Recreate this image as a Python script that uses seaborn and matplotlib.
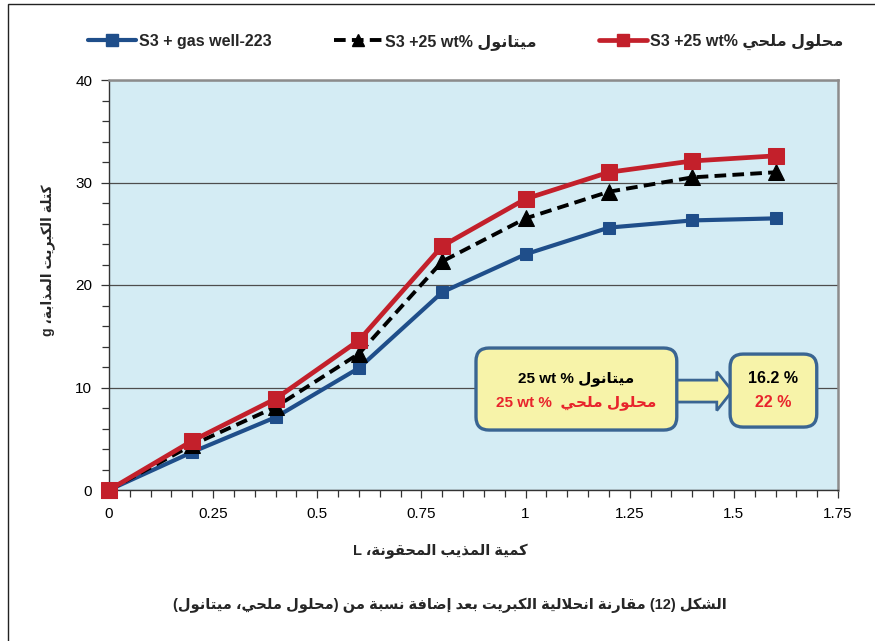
import matplotlib
matplotlib.use("Agg")
import matplotlib.pyplot as plt
from matplotlib.patches import FancyBboxPatch, Polygon, Rectangle
from matplotlib.ticker import MultipleLocator
from matplotlib.lines import Line2D
import seaborn as sns
import pandas as pd

# ---------------------------------------------------------------- data
volume_l = [0, 0.2, 0.4, 0.6, 0.8, 1.0, 1.2, 1.4, 1.6]
gas_well = [0, 3.7, 7.1, 11.9, 19.3, 23.0, 25.6, 26.3, 26.5]
methanol = [0, 4.4, 8.1, 13.3, 22.3, 26.5, 29.1, 30.5, 31.0]
brine = [0, 4.8, 8.9, 14.6, 23.8, 28.4, 31.0, 32.1, 32.6]

x_ticks = [0, 0.25, 0.5, 0.75, 1, 1.25, 1.5, 1.75]
x_tick_labels = ["0", "0.25", "0.5", "0.75", "1", "1.25", "1.5", "1.75"]
y_ticks = [0, 10, 20, 30, 40]

# ------------------------------------------------- Arabic shaping helpers
# (isolated, final, initial, medial) presentation forms
_FORMS = {
    "\u0622": (0xFE81, 0xFE82, None, None),
    "\u0623": (0xFE83, 0xFE84, None, None),
    "\u0625": (0xFE87, 0xFE88, None, None),
    "\u0627": (0xFE8D, 0xFE8E, None, None),
    "\u0628": (0xFE8F, 0xFE90, 0xFE91, 0xFE92),
    "\u0629": (0xFE93, 0xFE94, None, None),
    "\u062A": (0xFE95, 0xFE96, 0xFE97, 0xFE98),
    "\u062B": (0xFE99, 0xFE9A, 0xFE9B, 0xFE9C),
    "\u062C": (0xFE9D, 0xFE9E, 0xFE9F, 0xFEA0),
    "\u062D": (0xFEA1, 0xFEA2, 0xFEA3, 0xFEA4),
    "\u062E": (0xFEA5, 0xFEA6, 0xFEA7, 0xFEA8),
    "\u062F": (0xFEA9, 0xFEAA, None, None),
    "\u0630": (0xFEAB, 0xFEAC, None, None),
    "\u0631": (0xFEAD, 0xFEAE, None, None),
    "\u0632": (0xFEAF, 0xFEB0, None, None),
    "\u0633": (0xFEB1, 0xFEB2, 0xFEB3, 0xFEB4),
    "\u0634": (0xFEB5, 0xFEB6, 0xFEB7, 0xFEB8),
    "\u0635": (0xFEB9, 0xFEBA, 0xFEBB, 0xFEBC),
    "\u0636": (0xFEBD, 0xFEBE, 0xFEBF, 0xFEC0),
    "\u0637": (0xFEC1, 0xFEC2, 0xFEC3, 0xFEC4),
    "\u0638": (0xFEC5, 0xFEC6, 0xFEC7, 0xFEC8),
    "\u0639": (0xFEC9, 0xFECA, 0xFECB, 0xFECC),
    "\u063A": (0xFECD, 0xFECE, 0xFECF, 0xFED0),
    "\u0641": (0xFED1, 0xFED2, 0xFED3, 0xFED4),
    "\u0642": (0xFED5, 0xFED6, 0xFED7, 0xFED8),
    "\u0643": (0xFED9, 0xFEDA, 0xFEDB, 0xFEDC),
    "\u0644": (0xFEDD, 0xFEDE, 0xFEDF, 0xFEE0),
    "\u0645": (0xFEE1, 0xFEE2, 0xFEE3, 0xFEE4),
    "\u0646": (0xFEE5, 0xFEE6, 0xFEE7, 0xFEE8),
    "\u0647": (0xFEE9, 0xFEEA, 0xFEEB, 0xFEEC),
    "\u0648": (0xFEED, 0xFEEE, None, None),
    "\u0649": (0xFEEF, 0xFEF0, None, None),
    "\u064A": (0xFEF1, 0xFEF2, 0xFEF3, 0xFEF4),
}
_LAM_ALEF = {
    "\u0622": (0xFEF5, 0xFEF6, None, None),
    "\u0623": (0xFEF7, 0xFEF8, None, None),
    "\u0625": (0xFEF9, 0xFEFA, None, None),
    "\u0627": (0xFEFB, 0xFEFC, None, None),
}


def _shape(text):
    units = []
    i = 0
    while i < len(text):
        ch = text[i]
        if ch == "\u0644" and i + 1 < len(text) and text[i + 1] in _LAM_ALEF:
            units.append((ch, _LAM_ALEF[text[i + 1]]))
            i += 2
            continue
        units.append((ch, _FORMS.get(ch)))
        i += 1
    out = []
    for k, (ch, forms) in enumerate(units):
        if forms is None:
            out.append(ch)
            continue
        prev = k > 0 and units[k - 1][1] is not None and units[k - 1][1][2] is not None
        nxt = forms[2] is not None and k + 1 < len(units) and units[k + 1][1] is not None
        if prev and nxt:
            code = forms[3]
        elif prev:
            code = forms[1]
        elif nxt:
            code = forms[2]
        else:
            code = forms[0]
        out.append(chr(code))
    return "".join(out)


_MIRROR = str.maketrans("()", ")(")


def rtl(text):
    """Shape Arabic text and lay it out right-to-left, word by word."""
    words = _shape(text).split(" ")
    vis = []
    for w in reversed(words):
        if any(0xFB50 <= ord(c) <= 0xFEFF or 0x0600 <= ord(c) <= 0x06FF for c in w):
            vis.append(w[::-1].translate(_MIRROR))
        else:
            vis.append(w)
    return " ".join(vis)


# ---------------------------------------------------------------- labels
series_names = [
    "S3 + gas well-223",
    "S3 +25 wt% " + rtl("ميتانول"),
    "S3 +25 wt% " + rtl("محلول ملحي"),
]
x_label = rtl("كمية المذيب المحقونة، L")
y_label = rtl("كتلة الكبريت المذابة، g")
caption = rtl("الشكل (12) مقارنة انحلالية الكبريت بعد إضافة نسبة من (محلول ملحي، ميتانول)")
box_line1 = "25 wt % " + rtl("ميتانول")
box_line2 = "25 wt %  " + rtl("محلول ملحي")
result_methanol = "16.2 %"
result_brine = "22 %"

# ---------------------------------------------------------------- style
sns.set_theme(style="white")
plt.rcParams["font.family"] = ["Liberation Sans", "DejaVu Sans"]

BLUE = "#1f4e8a"
BLACK = "#000000"
RED = "#c3202b"
BOX_FILL = "#f7f3a9"
BOX_EDGE = "#3a6592"

fig = plt.figure(figsize=(8.75, 6.41), dpi=100)
ax = fig.add_axes([109 / 875, 1 - 490 / 641, 729 / 875, 410 / 641])
ax.set_facecolor("#d4ecf4")

df = pd.DataFrame({"x": volume_l, "gas": gas_well, "meth": methanol, "brine": brine})

sns.lineplot(data=df, x="x", y="gas", ax=ax, color=BLUE, lw=3.0,
             marker="s", markersize=9, markeredgecolor=BLUE,
             markerfacecolor=BLUE, clip_on=False, zorder=3)
sns.lineplot(data=df, x="x", y="meth", ax=ax, color=BLACK, lw=2.8,
             linestyle=(0, (3, 1.6)), marker="^", markersize=11,
             markeredgecolor=BLACK, markerfacecolor=BLACK, clip_on=False, zorder=4)
sns.lineplot(data=df, x="x", y="brine", ax=ax, color=RED, lw=3.4,
             marker="s", markersize=11, markeredgecolor=RED,
             markerfacecolor=RED, clip_on=False, zorder=5)

ax.set_xlim(0, 1.75)
ax.set_ylim(0, 40)
ax.set_xticks(x_ticks)
ax.set_xticklabels(x_tick_labels)
ax.set_yticks(y_ticks)
ax.xaxis.set_minor_locator(MultipleLocator(0.05))
ax.yaxis.set_minor_locator(MultipleLocator(2))
ax.tick_params(which="both", direction="out", color="#333333", width=0.9,
               labelsize=11, labelcolor="black", bottom=True, left=True)
ax.tick_params(which="major", length=6, pad=6)
ax.tick_params(which="minor", length=5)
ax.yaxis.grid(True, which="major", color="#4d4d4d", lw=0.9)
ax.xaxis.grid(False)

for side in ("left", "bottom"):
    ax.spines[side].set_color("#333333")
    ax.spines[side].set_linewidth(1.0)
for side in ("top", "right"):
    ax.spines[side].set_color("#8c8c8c")
    ax.spines[side].set_linewidth(1.8)

ax.set_xlabel(x_label, fontsize=10.5, fontweight="bold")
ax.set_ylabel(y_label, fontsize=10, fontweight="bold")
ax.xaxis.set_label_coords(0.454, -0.130)
ax.yaxis.set_label_coords(-0.074, 0.56)

# ------------------------------------------- annotation boxes and arrow
# Boxes are placed by data position but drawn in inch space so the
# rounded corners stay circular.
to_in = ax.transData + fig.dpi_scale_trans.inverted()


def rounded_box(x0, y0, x1, y1):
    (ax0, ay0), (ax1, ay1) = to_in.transform([(x0, y0), (x1, y1)])
    patch = FancyBboxPatch((ax0, ay0), ax1 - ax0, ay1 - ay0,
                           boxstyle="round,pad=0,rounding_size=0.13",
                           transform=fig.dpi_scale_trans, fc=BOX_FILL,
                           ec=BOX_EDGE, lw=2.4, zorder=6, clip_on=False)
    ax.add_patch(patch)


rounded_box(0.881, 5.85, 1.363, 13.85)
rounded_box(1.491, 6.14, 1.699, 13.26)
arrow = Polygon([(1.347, 10.72), (1.459, 10.72), (1.459, 11.55), (1.496, 9.65),
                 (1.459, 7.75), (1.459, 8.58), (1.347, 8.58)],
                closed=True, fc=BOX_FILL, ec=BOX_EDGE, lw=2.0, zorder=5)
ax.add_patch(arrow)

ax.text(1.122, 10.9, box_line1, ha="center", va="center", fontsize=11,
        fontweight="bold", color="black", zorder=8)
ax.text(1.122, 8.55, box_line2, ha="center", va="center", fontsize=11,
        fontweight="bold", color="#e8242c", zorder=8)
ax.text(1.595, 10.9, result_methanol, ha="center", va="center", fontsize=11.5,
        fontweight="bold", color="black", zorder=8)
ax.text(1.595, 8.55, result_brine, ha="center", va="center", fontsize=11.5,
        fontweight="bold", color="#e8242c", zorder=8)

# ------------------------------------------------ legend across the top
handles = [
    Line2D([], [], color=BLUE, lw=3.0, marker="s", markersize=8,
           markerfacecolor=BLUE, markeredgecolor=BLUE),
    Line2D([], [], color=BLACK, lw=2.8, linestyle=(0, (3, 1.6)), marker="^",
           markersize=9, markerfacecolor=BLACK, markeredgecolor=BLACK),
    Line2D([], [], color=RED, lw=3.4, marker="s", markersize=9,
           markerfacecolor=RED, markeredgecolor=RED),
]
if ax.get_legend() is not None:
    ax.get_legend().remove()
fig.legend(handles, series_names, loc="center", bbox_to_anchor=(466 / 875, 1 - 42 / 641),
           ncol=3, frameon=False, handlelength=3.0, columnspacing=3.9,
           handletextpad=0.2, prop={"weight": "bold", "size": 11.5})

fig.text(450 / 875, 1 - 605 / 641, caption, ha="center", va="center",
         fontsize=10.5, fontweight="bold")

# outer frame of the figure
fig.patches.append(Rectangle((8 / 875, -0.01), 1.0, 1.01 - 4 / 641,
                             transform=fig.transFigure, fill=False,
                             ec="#222222", lw=1.0))

fig.savefig("out.png", dpi=100)
